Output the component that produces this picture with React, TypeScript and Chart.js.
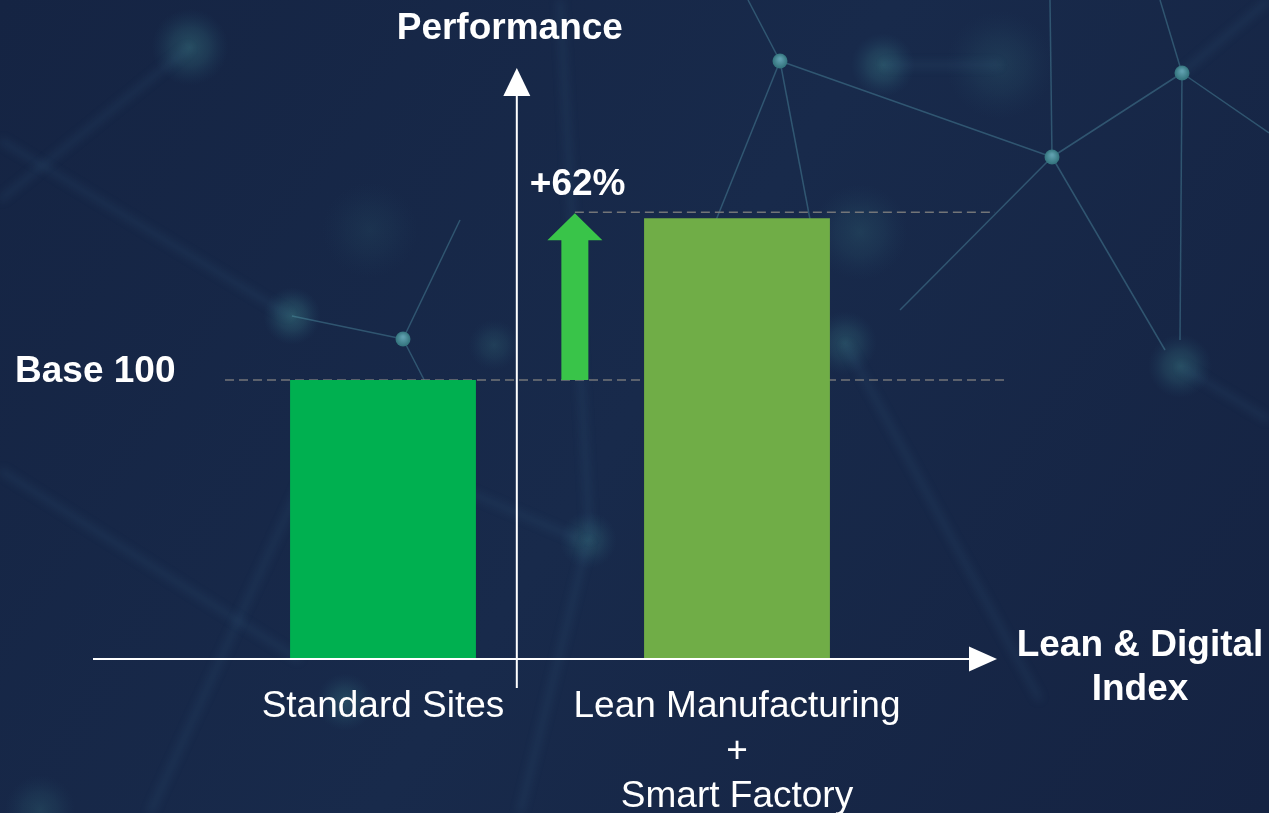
import React, { useEffect, useRef } from "react";
import { Chart, registerables } from "chart.js";

Chart.register(...registerables);

// ---- data ----
const categories: string[][] = [["Standard Sites"], ["Lean Manufacturing", "+", "Smart Factory"]];
const performance: number[] = [100, 158];
const barColors: string[] = ["#00B050", "#70AD47"];
const baseValue = 100;
const yMax = 200;
const gainLabel = "+62%";
const baseLabel = "Base 100";
const yAxisTitle = "Performance";
const xAxisTitle: string[] = ["Lean & Digital", "Index"];

// ---- decorative background (network picture) ----
const bgGlows: number[][] = [
  [190, 47, 24, 0.35], [292, 316, 18, 0.4], [883, 65, 20, 0.35], [1000, 65, 34, 0.16],
  [845, 343, 20, 0.3], [1180, 366, 20, 0.35], [588, 540, 18, 0.3], [345, 702, 18, 0.3],
  [494, 345, 16, 0.2], [860, 232, 30, 0.18], [40, 810, 22, 0.2], [370, 230, 30, 0.1],
];
const bgNodes: number[][] = [[780, 61], [1052, 157], [1182, 73], [403, 339]];
const bgLinks: number[][] = [
  [780, 61, 1052, 157], [780, 61, 748, 0], [780, 61, 700, 260], [780, 61, 812, 230],
  [1052, 157, 1050, 0], [1052, 157, 1182, 73], [1052, 157, 900, 310], [1052, 157, 1165, 350],
  [1182, 73, 1269, 133], [1182, 73, 1160, 0], [1182, 73, 1180, 340],
  [403, 339, 292, 316], [403, 339, 460, 220], [403, 339, 450, 430],
];
const bgSoftLinks: number[][] = [
  [0, 200, 190, 47], [0, 470, 300, 660], [150, 813, 330, 420], [560, 0, 590, 540],
  [290, 316, 0, 140], [883, 65, 1000, 65], [1269, 0, 1182, 73], [1180, 366, 1269, 420],
  [588, 540, 520, 813], [845, 343, 1040, 700], [300, 420, 580, 540],
];

const FONT = '"Liberation Sans", Arial, Helvetica, sans-serif';

const decorPlugin = {
  id: "decor",
  beforeDraw(chart: any) {
    const { ctx, width, height } = chart;
    ctx.save();
    const g = ctx.createLinearGradient(0, 0, width, height);
    g.addColorStop(0, "#152443");
    g.addColorStop(0.5, "#182a4b");
    g.addColorStop(1, "#152342");
    ctx.fillStyle = g;
    ctx.fillRect(0, 0, width, height);

    for (const [gx, gy, r, a] of bgGlows) {
      const rg = ctx.createRadialGradient(gx, gy, 0, gx, gy, r * 1.6);
      rg.addColorStop(0, `rgba(70,150,150,${a})`);
      rg.addColorStop(0.5, `rgba(60,130,140,${a * 0.6})`);
      rg.addColorStop(1, "rgba(40,90,120,0)");
      ctx.fillStyle = rg;
      ctx.beginPath();
      ctx.arc(gx, gy, r * 1.6, 0, Math.PI * 2);
      ctx.fill();
    }

    ctx.filter = "blur(4px)";
    ctx.strokeStyle = "rgba(70,130,160,0.14)";
    ctx.lineWidth = 6;
    for (const [x1, y1, x2, y2] of bgSoftLinks) {
      ctx.beginPath();
      ctx.moveTo(x1, y1);
      ctx.lineTo(x2, y2);
      ctx.stroke();
    }
    ctx.filter = "none";

    ctx.strokeStyle = "rgba(90,160,180,0.38)";
    ctx.lineWidth = 1.5;
    for (const [x1, y1, x2, y2] of bgLinks) {
      ctx.beginPath();
      ctx.moveTo(x1, y1);
      ctx.lineTo(x2, y2);
      ctx.stroke();
    }
    for (const [nx, ny] of bgNodes) {
      const ng = ctx.createRadialGradient(nx, ny - 2, 1, nx, ny, 8);
      ng.addColorStop(0, "#5f9fae");
      ng.addColorStop(1, "#2f6f78");
      ctx.fillStyle = ng;
      ctx.beginPath();
      ctx.arc(nx, ny, 7.5, 0, Math.PI * 2);
      ctx.fill();
    }
    ctx.restore();
  },
  beforeDatasetsDraw(chart: any) {
    const { ctx, chartArea: area } = chart;
    const xs = chart.scales.x;
    const ys = chart.scales.y;
    const c0 = xs.getPixelForValue(0);
    const c1 = xs.getPixelForValue(1);
    const step = c1 - c0;
    const axisX = c0 + step * 0.378;
    const arrowX = axisX + step * 0.164;
    const baseY = ys.getPixelForValue(baseValue);
    const topY = ys.getPixelForValue(performance[1]) - 6;
    ctx.save();
    ctx.strokeStyle = "rgba(125,125,125,0.9)";
    ctx.lineWidth = 1.5;
    ctx.setLineDash([9, 5]);
    ctx.beginPath();
    ctx.moveTo(area.left + 19, baseY);
    ctx.lineTo(area.right + 94, baseY);
    ctx.stroke();
    ctx.beginPath();
    ctx.moveTo(arrowX, topY);
    ctx.lineTo(area.right + 81, topY);
    ctx.stroke();
    ctx.restore();
  },
  afterDatasetsDraw(chart: any) {
    const { ctx, chartArea: area } = chart;
    const xs = chart.scales.x;
    const ys = chart.scales.y;
    const c0 = xs.getPixelForValue(0);
    const c1 = xs.getPixelForValue(1);
    const step = c1 - c0;
    const axisX = c0 + step * 0.378;
    const arrowX = axisX + step * 0.164;
    const zeroY = ys.getPixelForValue(0);
    const baseY = ys.getPixelForValue(baseValue);
    const topY = ys.getPixelForValue(performance[1]) - 6;

    ctx.save();
    // axes
    ctx.strokeStyle = "#ffffff";
    ctx.fillStyle = "#ffffff";
    ctx.lineWidth = 2;
    ctx.beginPath();
    ctx.moveTo(area.left - 113, zeroY);
    ctx.lineTo(area.right + 56, zeroY);
    ctx.stroke();
    ctx.beginPath();
    ctx.moveTo(area.right + 83, zeroY);
    ctx.lineTo(area.right + 55, zeroY - 12.5);
    ctx.lineTo(area.right + 55, zeroY + 12.5);
    ctx.closePath();
    ctx.fill();

    ctx.beginPath();
    ctx.moveTo(axisX, zeroY + 29);
    ctx.lineTo(axisX, area.top - 5);
    ctx.stroke();
    ctx.beginPath();
    ctx.moveTo(axisX, area.top - 33);
    ctx.lineTo(axisX - 13.5, area.top - 5);
    ctx.lineTo(axisX + 13.5, area.top - 5);
    ctx.closePath();
    ctx.fill();

    // green growth arrow
    ctx.fillStyle = "#39C449";
    ctx.beginPath();
    ctx.moveTo(arrowX, topY + 1);
    ctx.lineTo(arrowX + 27.5, topY + 28);
    ctx.lineTo(arrowX + 13.5, topY + 28);
    ctx.lineTo(arrowX + 13.5, baseY);
    ctx.lineTo(arrowX - 13.5, baseY);
    ctx.lineTo(arrowX - 13.5, topY + 28);
    ctx.lineTo(arrowX - 27.5, topY + 28);
    ctx.closePath();
    ctx.fill();

    // texts
    ctx.fillStyle = "#ffffff";
    ctx.font = `bold 37px ${FONT}`;
    ctx.textBaseline = "alphabetic";
    ctx.textAlign = "center";
    ctx.fillText(yAxisTitle, axisX - 7, area.top - 62);
    xAxisTitle.forEach((t, i) => ctx.fillText(t, area.right + 226, zeroY - 3 + i * 44));
    ctx.textAlign = "left";
    ctx.fillText(gainLabel, axisX + 13, topY - 17);
    ctx.fillText(baseLabel, 15, baseY + 2);
    ctx.restore();
  },
};

export default function App() {
  const ref = useRef<HTMLCanvasElement | null>(null);
  useEffect(() => {
    if (!ref.current) return;
    const chart = new Chart(ref.current, {
      type: "bar",
      data: {
        labels: categories as any,
        datasets: [
          {
            data: performance,
            backgroundColor: barColors,
            borderWidth: 0,
            barPercentage: 1,
            categoryPercentage: 0.525,
          },
        ],
      },
      options: {
        responsive: false,
        animation: false,
        devicePixelRatio: 1,
        layout: { padding: { left: 206, right: 355, top: 101, bottom: 0 } },
        plugins: {
          legend: { display: false },
          tooltip: { enabled: false },
          title: { display: false },
        },
        scales: {
          x: {
            grid: { display: false, drawTicks: false },
            border: { display: false },
            ticks: {
              color: "#ffffff",
              font: { family: FONT, size: 37, lineHeight: 45 / 37 },
              padding: 25,
              autoSkip: false,
              maxRotation: 0,
              minRotation: 0,
            },
            afterFit: (s: any) => {
              s.height = 154;
            },
          },
          y: { display: false, min: 0, max: yMax },
        },
      } as any,
      plugins: [decorPlugin],
    });
    return () => chart.destroy();
  }, []);
  return (
    <div style={{ position: "fixed", left: 0, top: 0, width: 1269, height: 813, background: "#172747" }}>
      <canvas ref={ref} width={1269} height={813} style={{ display: "block" }} />
    </div>
  );
}
